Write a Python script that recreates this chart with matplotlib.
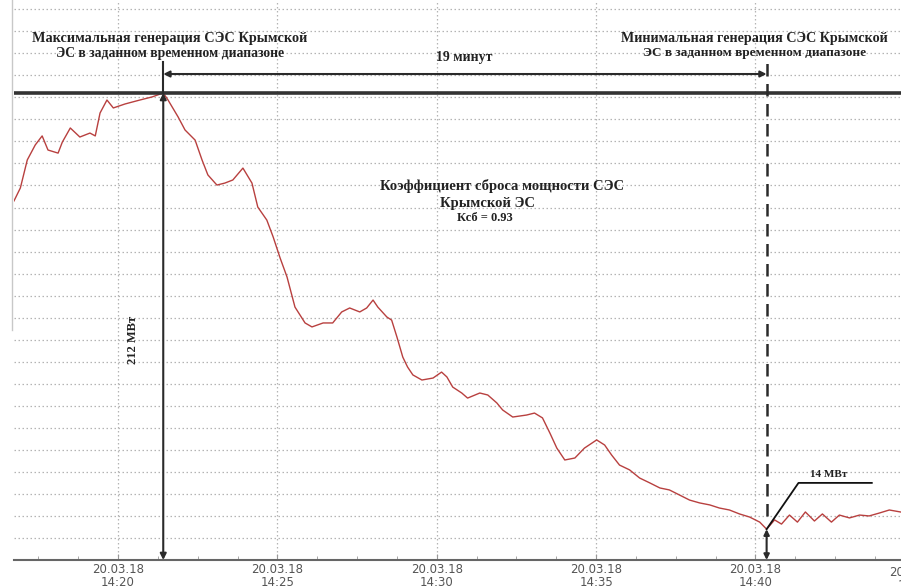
import pandas as pd
import matplotlib.pyplot as plt
from matplotlib.ticker import MultipleLocator, FuncFormatter

# measured SES output, 20.03.18 (time of day, MW)
times = [
    '14:16:44', '14:16:56', '14:17:09', '14:17:24', '14:17:37', '14:17:48',
    '14:18:07', '14:18:15', '14:18:30', '14:18:48', '14:19:07', '14:19:17',
    '14:19:26', '14:19:39', '14:19:51', '14:20:13', '14:20:41', '14:21:04',
    '14:21:25', '14:21:34', '14:21:53', '14:22:06', '14:22:25', '14:22:38',
    '14:22:49', '14:23:06', '14:23:21', '14:23:36', '14:23:55', '14:24:12',
    '14:24:23', '14:24:40', '14:24:52', '14:25:05', '14:25:18', '14:25:33',
    '14:25:52', '14:26:05', '14:26:26', '14:26:44', '14:27:01', '14:27:16',
    '14:27:35', '14:27:48', '14:28:00', '14:28:09', '14:28:26', '14:28:35',
    '14:28:45', '14:28:56', '14:29:05', '14:29:15', '14:29:32', '14:29:53',
    '14:30:09', '14:30:19', '14:30:30', '14:30:47', '14:30:58', '14:31:21',
    '14:31:36', '14:31:53', '14:32:04', '14:32:23', '14:32:49', '14:33:04',
    '14:33:19', '14:33:33', '14:33:46', '14:34:01', '14:34:20', '14:34:38',
    '14:35:01', '14:35:16', '14:35:29', '14:35:44', '14:36:03', '14:36:22',
    '14:36:41', '14:37:00', '14:37:18', '14:37:37', '14:37:56', '14:38:15',
    '14:38:34', '14:38:52', '14:39:11', '14:39:30', '14:39:49', '14:40:08',
    '14:40:21', '14:40:36', '14:40:49', '14:41:04', '14:41:19', '14:41:34',
    '14:41:51', '14:42:06', '14:42:23', '14:42:38', '14:42:57', '14:43:16',
    '14:43:34', '14:43:53', '14:44:12', '14:44:33',
]
power_mw = [
    163.0, 168.9, 181.6, 188.4, 192.5, 186.1,
    184.7, 189.7, 196.1, 192.0, 193.8, 192.5,
    202.9, 208.8, 205.2, 207.0, 208.8, 210.2,
    212.0, 208.8, 201.1, 195.2, 190.6, 181.6,
    174.8, 170.2, 171.1, 172.5, 177.9, 171.1,
    160.2, 154.3, 146.6, 137.1, 128.5, 114.8,
    107.6, 105.8, 107.6, 107.6, 112.6, 114.4,
    112.6, 114.4, 118.0, 114.8, 110.3, 108.9,
    101.2, 92.1, 87.6, 84.0, 81.7, 82.6,
    85.3, 83.1, 78.5, 75.8, 73.5, 75.8,
    74.9, 71.3, 68.1, 64.9, 65.8, 66.7,
    64.5, 57.6, 50.8, 45.4, 46.3, 50.8,
    54.5, 52.2, 47.7, 43.1, 40.9, 37.2,
    35.0, 32.7, 31.8, 29.5, 27.2, 25.9,
    25.0, 23.6, 22.7, 20.9, 19.5, 17.2,
    14.0, 18.2, 16.3, 20.4, 17.2, 21.8,
    17.7, 20.9, 17.2, 20.4, 19.1, 20.4,
    20.0, 21.3, 22.7, 21.8,
]
x_start, x_end = '14:16:44', '14:44:34'
date_label = '20.03.18'
k_sb = 0.93


def to_min(s):
    return (pd.to_timedelta(s) - pd.Timedelta('14:00:00')).total_seconds() / 60


df = pd.DataFrame({'t': [to_min(s) for s in times], 'p': power_mw})
i_max = df['p'].idxmax()
i_min = df['p'].idxmin()
t_max, p_max = df.loc[i_max, 't'], df.loc[i_max, 'p']
t_min, p_min = df.loc[i_min, 't'], df.loc[i_min, 'p']

fig = plt.figure(figsize=(9.01, 5.87), dpi=100)
ax = fig.add_axes([14 / 901, 27 / 587, 887 / 901, 560 / 587])

ax.plot(df['t'], df['p'], color='#b8403f', lw=1.0)

ax.set_xlim(to_min(x_start), to_min(x_end))
ax.set_ylim(0, 254.2)
ax.xaxis.set_major_locator(MultipleLocator(5))
ax.xaxis.set_minor_locator(MultipleLocator(1.25))
ax.yaxis.set_major_locator(MultipleLocator(10))
ax.xaxis.set_major_formatter(FuncFormatter(
    lambda v, pos: '%s\n14:%02d' % (date_label, round(v))))
ax.grid(True, which='major', color='#b4b4b4', linestyle=(0, (1.2, 2)), lw=0.9)
ax.tick_params(axis='y', left=False, labelleft=False)
ax.tick_params(axis='x', which='major', direction='in', length=4, color='#999',
               labelsize=8.5, labelcolor='#555', pad=2)
ax.tick_params(axis='x', which='minor', direction='in', length=3, color='#999')
for lbl in ax.get_xticklabels():
    lbl.set_linespacing(1.0)
for s in ['top', 'right', 'left']:
    ax.spines[s].set_visible(False)
ax.spines['bottom'].set_color('#666')
ax.spines['bottom'].set_linewidth(1.5)

# cut-off label of the next tick at the right edge
ax.annotate('%s\n14:45' % date_label, xy=(45, 0), xycoords=('data', 'axes fraction'),
            xytext=(0, -4), textcoords='offset points', ha='center', va='top',
            fontsize=8.5, color='#555', linespacing=1.0, annotation_clip=False)

dark = '#2a2a2a'
serif = dict(family='Liberation Serif', weight='bold', color='#222')

# max level line
ax.axhline(p_max, color='#333', lw=2.6)

# vertical markers at max and min
top = 226
ax.plot([t_max, t_max], [p_max, top], color=dark, lw=1.5)
ax.annotate('', xy=(t_max, 0), xytext=(t_max, p_max),
            arrowprops=dict(arrowstyle='<|-|>', color=dark, lw=1.5, mutation_scale=9,
                            shrinkA=0, shrinkB=0))
ax.plot([t_min, t_min], [p_min + 6, top], color=dark, lw=1.8, linestyle=(0, (5, 3)))
ax.annotate('', xy=(t_min, 0), xytext=(t_min, p_min),
            arrowprops=dict(arrowstyle='<|-|>', color=dark, lw=1.5, mutation_scale=8,
                            shrinkA=0, shrinkB=0))

# 19 minutes span
ax.annotate('', xy=(t_max, 220.6), xytext=(t_min, 220.6),
            arrowprops=dict(arrowstyle='<|-|>', color=dark, lw=1.5, mutation_scale=9,
                            shrinkA=0, shrinkB=0))
ax.text(0.508, 0.898, '%d минут' % round(t_min - t_max), transform=ax.transAxes,
        ha='center', va='center', fontsize=10, **serif)

# leader for min value
ax.plot([t_min, t_min + 1.0, t_min + 3.3], [p_min, p_min + 21, p_min + 21],
        color='#111', lw=1.3)
ax.text(0.918, 0.152, '%d МВт' % round(p_min), transform=ax.transAxes,
        ha='center', va='center', fontsize=8, **serif)

ax.text(0.134, 0.393, '%d МВт' % round(p_max), transform=ax.transAxes, rotation=90,
        ha='center', va='center', fontsize=9, **serif)

ax.text(0.176, 0.932, 'Максимальная генерация СЭС Крымской', transform=ax.transAxes,
        ha='center', va='center', fontsize=10.3, **serif)
ax.text(0.176, 0.905, 'ЭС в заданном временном диапазоне', transform=ax.transAxes,
        ha='center', va='center', fontsize=9.8, **serif)
ax.text(0.835, 0.932, 'Минимальная генерация СЭС Крымской', transform=ax.transAxes,
        ha='center', va='center', fontsize=10.2, **serif)
ax.text(0.835, 0.905, 'ЭС в заданном временном диапазоне', transform=ax.transAxes,
        ha='center', va='center', fontsize=9.5, **serif)

ax.text(0.550, 0.668, 'Коэффициент сброса мощности СЭС', transform=ax.transAxes,
        ha='center', va='center', fontsize=10.5, **serif)
ax.text(0.534, 0.6375, 'Крымской ЭС', transform=ax.transAxes,
        ha='center', va='center', fontsize=10.5, **serif)
ax.text(0.531, 0.611, 'Ксб = %.2f' % k_sb, transform=ax.transAxes,
        ha='center', va='center', fontsize=9, **serif)

# screenshot border on the left
fig.add_artist(plt.Line2D([12 / 901, 12 / 901], [1, 257 / 587],
                          transform=fig.transFigure, color='#c8c8c8', lw=1))

fig.savefig('out.png', dpi=100)
